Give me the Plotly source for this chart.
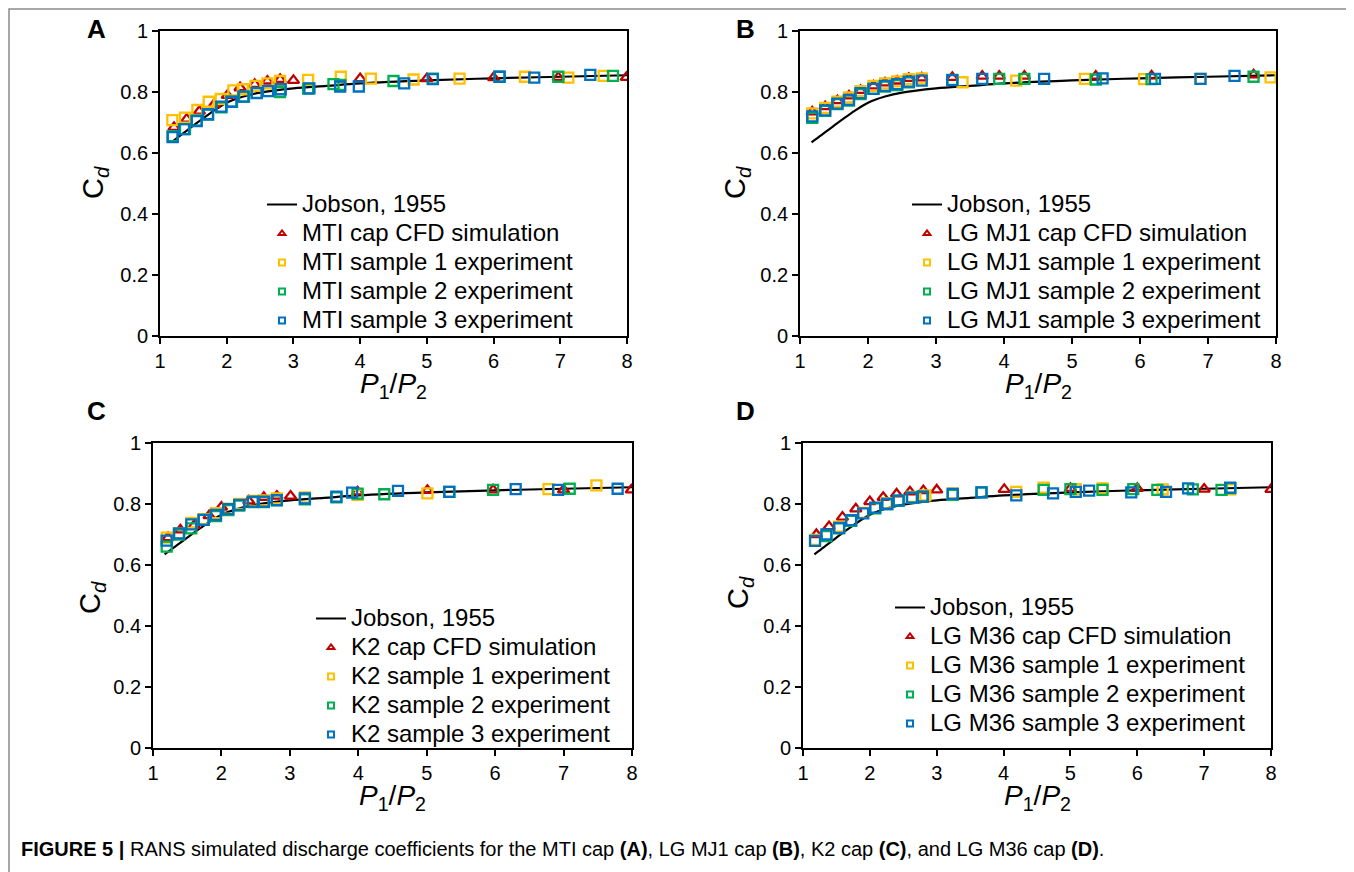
import plotly.graph_objects as go

# page body has an 8px margin, so the figure is 8px smaller and all pixel positions are shifted by 8
OFF = 8
W, H = 1354 - OFF, 872 - OFF

# ---------------- data ----------------
jobson_x = [1.17, 1.25, 1.5, 1.75, 2.0, 2.25, 2.5, 3.0, 3.5, 4.0, 5.0, 6.0, 7.0, 8.0]
jobson_y = [0.635, 0.648, 0.69, 0.73, 0.765, 0.785, 0.798, 0.812, 0.82, 0.828, 0.838, 0.845, 0.85, 0.855]

# Panel A - MTI
a_cfd_x = [1.21, 1.40, 1.59, 1.81, 2.01, 2.20, 2.42, 2.61, 2.80, 3.00, 4.00, 5.00, 6.00, 6.97, 7.99]
a_cfd_y = [0.684, 0.711, 0.737, 0.759, 0.789, 0.814, 0.825, 0.836, 0.841, 0.838, 0.844, 0.844, 0.847, 0.848, 0.848]
a_s1_x = [1.185, 1.375, 1.56, 1.73, 1.91, 2.10, 2.24, 2.43, 2.61, 2.80, 3.22, 3.71, 4.16, 4.80, 5.49, 6.47, 7.12, 7.65]
a_s1_y = [0.708, 0.716, 0.741, 0.768, 0.777, 0.805, 0.809, 0.820, 0.828, 0.836, 0.840, 0.850, 0.844, 0.841, 0.844, 0.850, 0.847, 0.853]
a_s2_x = [1.19, 1.375, 1.55, 1.72, 1.92, 2.08, 2.26, 2.45, 2.80, 3.22, 3.60, 3.70, 4.50, 5.09, 6.09, 6.97, 7.79]
a_s2_y = [0.655, 0.678, 0.706, 0.726, 0.750, 0.768, 0.785, 0.797, 0.800, 0.811, 0.826, 0.823, 0.836, 0.844, 0.850, 0.850, 0.853]
a_s3_x = [1.19, 1.36, 1.55, 1.72, 1.92, 2.07, 2.25, 2.45, 2.62, 2.81, 3.24, 3.70, 3.98, 4.66, 5.09, 6.09, 6.61, 7.45]
a_s3_y = [0.652, 0.678, 0.705, 0.727, 0.752, 0.768, 0.785, 0.796, 0.803, 0.809, 0.812, 0.818, 0.818, 0.828, 0.842, 0.850, 0.847, 0.856]

# Panel B - LG MJ1
b_cfd_x = [1.18, 1.37, 1.55, 1.72, 1.89, 2.08, 2.25, 2.43, 2.60, 2.79, 3.24, 3.68, 3.93, 4.30, 5.35, 6.17, 7.67]
b_cfd_y = [0.735, 0.752, 0.772, 0.787, 0.805, 0.82, 0.83, 0.836, 0.845, 0.846, 0.848, 0.852, 0.852, 0.852, 0.852, 0.853, 0.856]
b_s1_x = [1.18, 1.37, 1.55, 1.72, 1.89, 2.08, 2.25, 2.43, 2.60, 2.79, 3.39, 4.18, 5.19, 6.06, 6.89, 7.92]
b_s1_y = [0.73, 0.748, 0.768, 0.782, 0.803, 0.82, 0.828, 0.835, 0.842, 0.845, 0.832, 0.837, 0.843, 0.842, 0.843, 0.848]
b_s2_x = [1.18, 1.37, 1.55, 1.72, 1.89, 2.08, 2.25, 2.43, 2.60, 3.24, 3.93, 4.30, 5.35, 6.17, 7.67]
b_s2_y = [0.715, 0.738, 0.76, 0.772, 0.793, 0.81, 0.818, 0.823, 0.832, 0.84, 0.843, 0.843, 0.841, 0.842, 0.85]
b_s3_x = [1.18, 1.37, 1.55, 1.72, 1.89, 2.08, 2.25, 2.43, 2.60, 2.79, 3.24, 3.68, 4.59, 5.45, 6.22, 6.89, 7.39]
b_s3_y = [0.72, 0.74, 0.762, 0.774, 0.796, 0.81, 0.82, 0.826, 0.834, 0.837, 0.839, 0.843, 0.843, 0.845, 0.843, 0.843, 0.853]

# Panel C - K2
c_cfd_x = [1.22, 1.40, 1.60, 1.82, 2.00, 2.40, 2.62, 2.81, 3.01, 3.99, 5.01, 5.97, 7.00, 7.99]
c_cfd_y = [0.69, 0.715, 0.73, 0.762, 0.79, 0.81, 0.822, 0.826, 0.826, 0.84, 0.845, 0.846, 0.846, 0.846]
c_s1_x = [1.20, 1.38, 1.56, 1.74, 1.92, 2.10, 2.26, 2.46, 2.62, 2.81, 3.22, 3.99, 5.01, 6.78, 7.48]
c_s1_y = [0.69, 0.704, 0.738, 0.75, 0.77, 0.785, 0.80, 0.81, 0.812, 0.818, 0.822, 0.83, 0.835, 0.849, 0.861]
c_s2_x = [1.20, 1.38, 1.56, 1.74, 1.92, 2.10, 2.26, 2.46, 2.62, 2.81, 3.22, 3.68, 3.99, 4.38, 5.33, 5.97, 7.09]
c_s2_y = [0.66, 0.70, 0.72, 0.748, 0.76, 0.78, 0.795, 0.806, 0.806, 0.812, 0.815, 0.822, 0.834, 0.832, 0.84, 0.846, 0.85]
c_s3_x = [1.20, 1.38, 1.56, 1.74, 1.92, 2.10, 2.26, 2.46, 2.62, 2.81, 3.22, 3.68, 3.91, 4.58, 5.33, 6.30, 6.92, 7.79]
c_s3_y = [0.68, 0.704, 0.733, 0.748, 0.764, 0.783, 0.797, 0.808, 0.808, 0.813, 0.818, 0.824, 0.837, 0.843, 0.840, 0.849, 0.846, 0.850]

# Panel D - LG M36
d_cfd_x = [1.20, 1.39, 1.59, 1.79, 2.00, 2.20, 2.40, 2.60, 2.80, 3.00, 4.01, 5.00, 6.00, 7.00, 8.00]
d_cfd_y = [0.70, 0.726, 0.757, 0.784, 0.808, 0.822, 0.833, 0.84, 0.844, 0.846, 0.848, 0.851, 0.851, 0.849, 0.848]
d_s1_x = [1.18, 1.54, 1.90, 2.25, 2.63, 2.83, 3.24, 4.19, 4.60, 5.08, 5.48, 6.38, 7.39]
d_s1_y = [0.682, 0.726, 0.771, 0.802, 0.823, 0.828, 0.835, 0.840, 0.854, 0.849, 0.851, 0.848, 0.848]
d_s2_x = [1.35, 1.54, 1.72, 2.08, 2.26, 2.43, 2.63, 2.79, 3.24, 3.67, 4.60, 5.00, 5.48, 5.94, 6.30, 6.83, 7.26, 7.39]
d_s2_y = [0.695, 0.72, 0.745, 0.786, 0.80, 0.811, 0.82, 0.824, 0.830, 0.838, 0.846, 0.849, 0.846, 0.849, 0.846, 0.848, 0.846, 0.852]
d_s3_x = [1.18, 1.35, 1.54, 1.72, 1.90, 2.08, 2.26, 2.43, 2.63, 2.79, 3.24, 3.67, 4.19, 4.74, 5.08, 5.28, 5.91, 6.43, 6.76, 7.39]
d_s3_y = [0.679, 0.70, 0.722, 0.747, 0.769, 0.788, 0.80, 0.811, 0.821, 0.824, 0.833, 0.838, 0.828, 0.835, 0.840, 0.844, 0.838, 0.840, 0.851, 0.854]

panel_letters = ["A", "B", "C", "D"]
cap_names = ["MTI", "LG MJ1", "K2", "LG M36"]
x_ticks = [1, 2, 3, 4, 5, 6, 7, 8]
y_ticks = [0, 0.2, 0.4, 0.6, 0.8, 1]
y_tick_text = ["0", "0.2", "0.4", "0.6", "0.8", "1"]

panels = [
    (a_cfd_x, a_cfd_y, a_s1_x, a_s1_y, a_s2_x, a_s2_y, a_s3_x, a_s3_y),
    (b_cfd_x, b_cfd_y, b_s1_x, b_s1_y, b_s2_x, b_s2_y, b_s3_x, b_s3_y),
    (c_cfd_x, c_cfd_y, c_s1_x, c_s1_y, c_s2_x, c_s2_y, c_s3_x, c_s3_y),
    (d_cfd_x, d_cfd_y, d_s1_x, d_s1_y, d_s2_x, d_s2_y, d_s3_x, d_s3_y),
]

# ---------------- styling / layout ----------------
RED, YEL, GRN, BLU = "#C00000", "#FFC000", "#00B050", "#0070C0"
FONT = "Liberation Sans, Arial, sans-serif"
LEG_TXT = 24

# plot boxes in page pixels: (left, right, top, bottom)
boxes = [(160, 627, 31, 336), (800, 1276, 31, 336), (153, 632, 443, 748), (803, 1271, 443, 748)]
letter_pos = [(96, 29), (745, 29), (96, 411), (745, 411)]
ytitle_pos = [(95, 183), (737, 183), (92, 598), (740, 592)]
legend_pos = [(262, 185), (907, 185), (311, 599), (890, 588)]

def px(x):
    return (x - OFF) / W

def py(y):
    return 1 - (y - OFF) / H

fig = go.Figure()
annotations = []
layout_axes = {}
legends = {}

for i in range(4):
    n = "" if i == 0 else str(i + 1)
    xa, ya = "x" + n, "y" + n
    lg = "legend" + n
    cfx, cfy, s1x, s1y, s2x, s2y, s3x, s3y = panels[i]
    name = cap_names[i]

    fig.add_trace(go.Scatter(x=jobson_x, y=jobson_y, mode="lines", line=dict(color="black", width=2.2, shape="spline"),
                             xaxis=xa, yaxis=ya, showlegend=False, hoverinfo="skip"))
    series = [
        (cfx, cfy, "triangle-up-open", RED),
        (s1x, s1y, "square-open", YEL),
        (s2x, s2y, "square-open", GRN),
        (s3x, s3y, "square-open", BLU),
    ]
    for sx, sy, sym, col in series:
        fig.add_trace(go.Scatter(x=sx, y=sy, mode="markers",
                                 marker=dict(symbol=sym, size=10, color=col, line=dict(color=col, width=2.3)),
                                 xaxis=xa, yaxis=ya, showlegend=False))

    # legend entries
    labels = ["Jobson, 1955", f"{name} cap CFD simulation", f"{name} sample 1 experiment",
              f"{name} sample 2 experiment", f"{name} sample 3 experiment"]
    span = lambda s: f"<span style='font-size:{LEG_TXT}px'>{s}</span>"
    fig.add_trace(go.Scatter(x=[None], y=[None], mode="lines", line=dict(color="black", width=2),
                             name=span(labels[0]), legend=lg, xaxis=xa, yaxis=ya))
    for (sx, sy, sym, col), lab in zip(series, labels[1:]):
        fig.add_trace(go.Scatter(x=[None], y=[None], mode="markers",
                                 marker=dict(symbol=sym, size=6, color=col, line=dict(color=col, width=2)),
                                 name=span(lab), legend=lg, xaxis=xa, yaxis=ya))

    l, r, t, b = boxes[i]
    axis_common = dict(showline=True, linecolor="black", linewidth=1.8, mirror=True,
                       ticks="outside", ticklen=6, tickwidth=1.8, tickcolor="black",
                       showgrid=False, zeroline=False, automargin=False,
                       tickfont=dict(family=FONT, size=20, color="black"))
    layout_axes["xaxis" + n] = dict(axis_common, domain=[px(l), px(r)], range=[1, 8],
                                    tickvals=x_ticks, anchor=ya)
    layout_axes["yaxis" + n] = dict(axis_common, domain=[py(b), py(t)], range=[0, 1],
                                    tickvals=y_ticks, ticktext=y_tick_text, anchor=xa)

    lx, ly = legend_pos[i]
    legends[lg] = dict(x=px(lx), y=py(ly), xanchor="left", yanchor="top", bgcolor="rgba(0,0,0,0)",
                       font=dict(family=FONT, size=20, color="black"), tracegroupgap=0,
                       itemwidth=30)

    annotations.append(dict(text=f"<b>{panel_letters[i]}</b>", x=px(letter_pos[i][0]), y=py(letter_pos[i][1]),
                            xref="paper", yref="paper", showarrow=False, xanchor="center", yanchor="middle",
                            font=dict(family=FONT, size=26, color="black")))
    annotations.append(dict(text="C<sub><i>d</i></sub>", x=px(ytitle_pos[i][0]), y=py(ytitle_pos[i][1]),
                            xref="paper", yref="paper", showarrow=False, textangle=-90,
                            xanchor="center", yanchor="middle",
                            font=dict(family=FONT, size=29, color="black")))
    annotations.append(dict(text="<i>P</i><sub>1</sub>/<i>P</i><sub>2</sub>", x=px((l + r) / 2), y=py(b + 49),
                            xref="paper", yref="paper", showarrow=False, xanchor="center", yanchor="middle",
                            font=dict(family=FONT, size=28, color="black")))

annotations.append(dict(
    text="<b>FIGURE 5 |</b> RANS simulated discharge coefficients for the MTI cap <b>(A)</b>, LG MJ1 cap <b>(B)</b>, "
         "K2 cap <b>(C)</b>, and LG M36 cap <b>(D)</b>.",
    x=px(19), y=py(849), xref="paper", yref="paper", showarrow=False, xanchor="left", yanchor="middle",
    font=dict(family=FONT, size=20, color="black")))

fig.update_layout(
    width=W, height=H, margin=dict(l=0, r=0, t=0, b=0, pad=0, autoexpand=False),
    paper_bgcolor="white", plot_bgcolor="white",
    annotations=annotations,
    shapes=[dict(type="rect", xref="paper", yref="paper", x0=px(9), x1=px(1351), y0=py(890), y1=py(9),
                 line=dict(color="#8a8a8a", width=1.5), layer="below")],
    **layout_axes, **legends,
)

fig.write_html("out.html")
